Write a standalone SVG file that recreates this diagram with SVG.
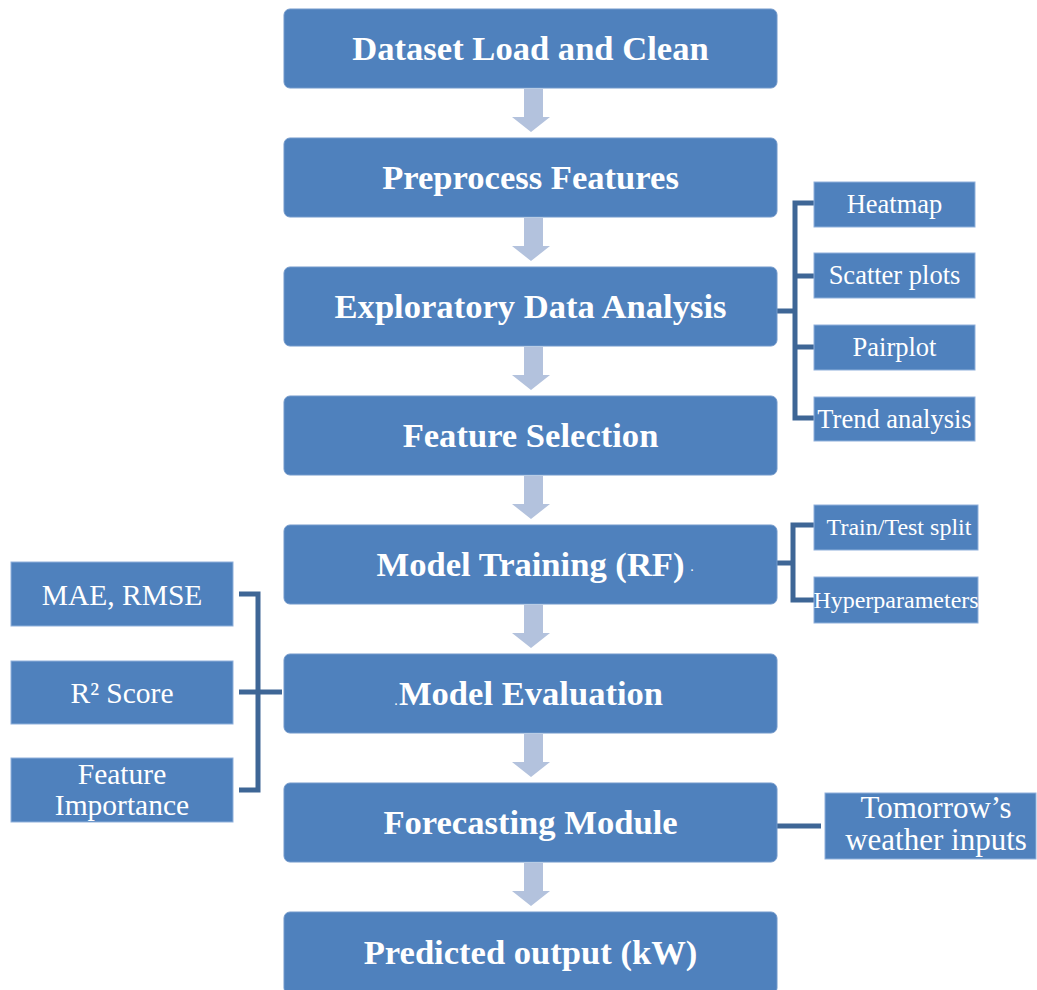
<svg xmlns="http://www.w3.org/2000/svg" width="1037" height="990" viewBox="0 0 1037 990">
<style>
.main{fill:#4f81bd;stroke:#7399cb;stroke-width:1}
.side{fill:#4f81bd;stroke:#8fb0db;stroke-width:1}
.mt{font-family:"Liberation Serif",serif;font-weight:bold;font-size:34.6px;fill:#fff;text-anchor:middle}
.st{font-family:"Liberation Serif",serif;font-size:26.5px;fill:#fff;text-anchor:middle}
.lt{font-family:"Liberation Serif",serif;font-size:29.5px;fill:#fff;text-anchor:middle}
.br{fill:none;stroke:#3e6696;stroke-width:5}
.ar{fill:#b3c2dd}
</style>
<defs>
<path id="arrow" class="ar" d="M524,0 H543 V28 H550 L531,43 L512,28 H524 Z"/>
</defs>
<g id="connectors">
<use href="#arrow" y="89"/>
<use href="#arrow" y="218"/>
<use href="#arrow" y="347"/>
<use href="#arrow" y="476"/>
<use href="#arrow" y="605"/>
<use href="#arrow" y="734"/>
<use href="#arrow" y="863"/>
<path class="br" d="M777,311 H795 M814,203 H795 V418 H814 M795,276 H814 M795,347 H814"/>
<path class="br" d="M777,563 H793 M814,525 H793 V600 H814"/>
<path class="br" d="M282,692 H239 M239,594 H258 V790 H239"/>
<path class="br" d="M777,826 H821"/>
</g>
<g id="n1"><rect class="main" x="284" y="9" width="493" height="79" rx="6"/><text class="mt" x="530.5" y="60">Dataset Load and Clean</text></g>
<g id="n2"><rect class="main" x="284" y="138" width="493" height="79" rx="6"/><text class="mt" x="530.5" y="189">Preprocess Features</text></g>
<g id="n3"><rect class="main" x="284" y="267" width="493" height="79" rx="6"/><text class="mt" x="530.5" y="318">Exploratory Data Analysis</text></g>
<g id="n4"><rect class="main" x="284" y="396" width="493" height="79" rx="6"/><text class="mt" x="530.5" y="447">Feature Selection</text></g>
<g id="n5"><rect class="main" x="284" y="525" width="493" height="79" rx="6"/><text class="mt" x="530.5" y="576">Model Training (RF)</text><text class="mt" x="692" y="571" style="font-size:10px">.</text></g>
<g id="n6"><rect class="main" x="284" y="654" width="493" height="79" rx="6"/><text class="mt" x="531" y="705">Model Evaluation</text><text class="mt" x="396" y="705" style="font-size:10px">.</text></g>
<g id="n7"><rect class="main" x="284" y="783" width="493" height="79" rx="6"/><text class="mt" x="530.5" y="834">Forecasting Module</text></g>
<g id="n8"><rect class="main" x="284" y="912" width="493" height="82" rx="6"/><text class="mt" x="530.5" y="964">Predicted output (kW)</text></g>
<g id="s1"><rect class="side" x="814" y="182" width="161" height="45"/><text class="st" x="894.5" y="213">Heatmap</text></g>
<g id="s2"><rect class="side" x="814" y="253" width="161" height="45"/><text class="st" x="894.5" y="284">Scatter plots</text></g>
<g id="s3"><rect class="side" x="814" y="325" width="161" height="45"/><text class="st" x="894.5" y="356">Pairplot</text></g>
<g id="s4"><rect class="side" x="814" y="397" width="161" height="44"/><text class="st" x="894.5" y="428">Trend analysis</text></g>
<g id="s5"><rect class="side" x="814" y="505" width="164" height="45"/><text class="st" x="899" y="535" style="font-size:24px">Train/Test split</text></g>
<g id="s6"><rect class="side" x="814" y="577" width="164" height="46"/><text class="st" x="896" y="608" style="font-size:24px">Hyperparameters</text></g>
<g id="l1"><rect class="side" x="11" y="562" width="222" height="64"/><text class="lt" x="122" y="605">MAE, RMSE</text></g>
<g id="l2"><rect class="side" x="11" y="661" width="222" height="63"/><text class="lt" x="122" y="703">R² Score</text></g>
<g id="l3"><rect class="side" x="11" y="758" width="222" height="64"/><text class="lt" x="122" y="784">Feature</text><text class="lt" x="122" y="815">Importance</text></g>
<g id="r1"><rect class="side" x="825" y="793" width="211" height="66"/><text class="lt" x="936" y="818" style="font-size:31px">Tomorrow’s</text><text class="lt" x="936" y="850" style="font-size:31px">weather inputs</text></g>
</svg>
